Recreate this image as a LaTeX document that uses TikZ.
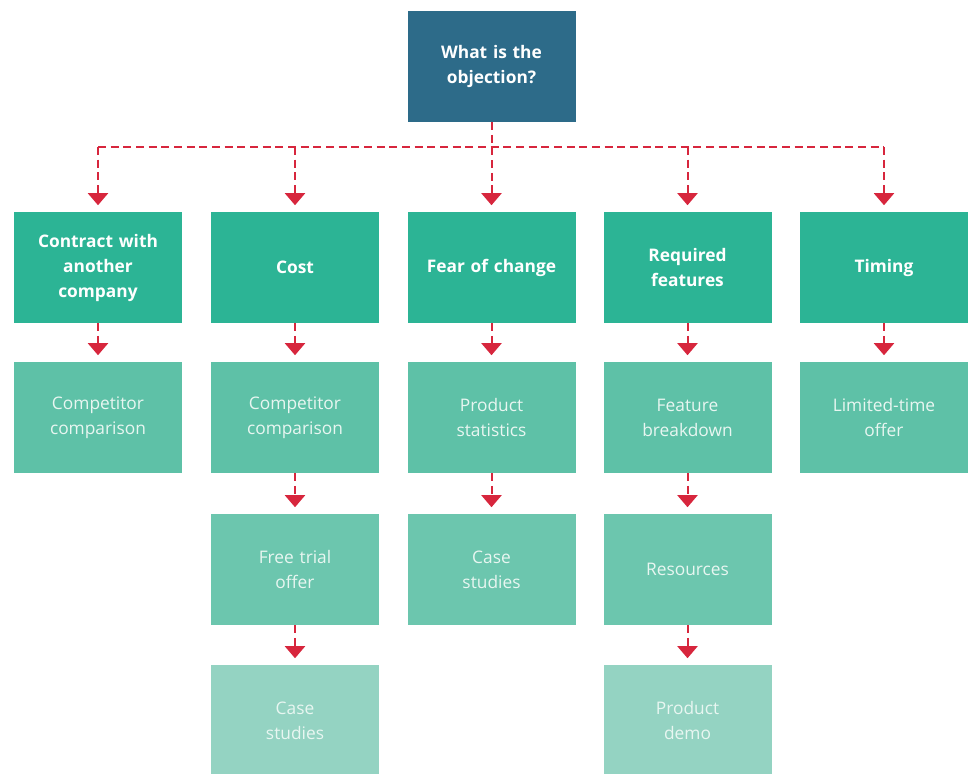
\documentclass[tikz,border=0pt]{standalone}
\usepackage{fontspec}
\setmainfont{Open Sans}
\usetikzlibrary{arrows.meta}

\definecolor{askblue}{HTML}{2D6B89}
\definecolor{objgreen}{HTML}{2CB495}
\definecolor{tacgreen}{HTML}{5EC1A7}
\definecolor{tacgreenb}{HTML}{6CC6AE}
\definecolor{tacgreenc}{HTML}{94D3C2}
\definecolor{linkred}{HTML}{D7263D}
\definecolor{paletext}{HTML}{E8F6F1}

\begin{document}
\begin{tikzpicture}[x=0.75pt,y=-0.75pt,
		box/.style={rectangle, minimum width=126pt, minimum height=83pt, inner sep=0pt,
			text width=120pt, align=center, text=white},
		askbox/.style={box, fill=askblue, font=\fontsize{13}{18.75}\selectfont\bfseries},
		objbox/.style={box, fill=objgreen, font=\fontsize{13}{18.75}\selectfont\bfseries},
		tacbox/.style={box, fill=tacgreen, text=paletext, font=\fontsize{13}{18.75}\selectfont},
		tacboxb/.style={tacbox, fill=tacgreenb},
		tacboxc/.style={tacbox, fill=tacgreenc},
		dashline/.style={draw=linkred, line width=1.5pt, dash pattern=on 6pt off 3.5pt},
		link/.style={dashline, -{Triangle[width=15pt,length=9pt]}, shorten >=5pt}]
		\useasboundingbox ( 0, 0 ) rectangle ( 971, 774 );
		\clip ( 0, 0 ) rectangle ( 971, 774 );

		% вопрос
		\node [askbox] (ask) at ( 491.5, 66.5 ) {What is the\\objection?};

		% возражения
		\node [objbox] (contract) at (  98.0, 267.5 ) {Contract with\\another\\company};
		\node [objbox] (cost)     at ( 295.0, 267.5 ) {Cost};
		\node [objbox] (fear)     at ( 491.5, 267.5 ) {Fear of change};
		\node [objbox] (features) at ( 687.5, 267.5 ) {Required\\features};
		\node [objbox] (timing)   at ( 884.0, 267.5 ) {Timing};

		% ответы, первый ряд
		\node [tacbox] (compA)   at (  98.0, 417.5 ) {Competitor\\comparison};
		\node [tacbox] (compB)   at ( 295.0, 417.5 ) {Competitor\\comparison};
		\node [tacbox] (stats)   at ( 491.5, 417.5 ) {Product\\statistics};
		\node [tacbox] (breakdn) at ( 687.5, 417.5 ) {Feature\\breakdown};
		\node [tacbox] (limited) at ( 884.0, 417.5 ) {Limited-time\\offer};

		% ответы, второй ряд
		\node [tacboxb] (trial)     at ( 295.0, 569.5 ) {Free trial\\offer};
		\node [tacboxb] (casesA)    at ( 491.5, 569.5 ) {Case\\studies};
		\node [tacboxb] (resources) at ( 687.5, 569.5 ) {Resources};

		% ответы, третий ряд
		\node [tacboxc] (casesB) at ( 295.0, 720.5 ) {Case\\studies};
		\node [tacboxc] (demo)   at ( 687.5, 720.5 ) {Product\\demo};

		% шина
		\coordinate (bus) at ( 491.5, 147 );
		\draw [dashline] (contract.north |- bus) -- (timing.north |- bus);
		\draw [link] (ask) -- (fear);
		\draw [link] (contract.north |- bus) -- (contract);
		\draw [link] (cost.north |- bus) -- (cost);
		\draw [link] (features.north |- bus) -- (features);
		\draw [link] (timing.north |- bus) -- (timing);

		% связи вниз
		\draw [link] (contract) -- (compA);
		\draw [link] (cost) -- (compB);
		\draw [link] (fear) -- (stats);
		\draw [link] (features) -- (breakdn);
		\draw [link] (timing) -- (limited);
		\draw [link] (compB) -- (trial);
		\draw [link] (stats) -- (casesA);
		\draw [link] (breakdn) -- (resources);
		\draw [link] (trial) -- (casesB);
		\draw [link] (resources) -- (demo);
	\end{tikzpicture}
\end{document}
